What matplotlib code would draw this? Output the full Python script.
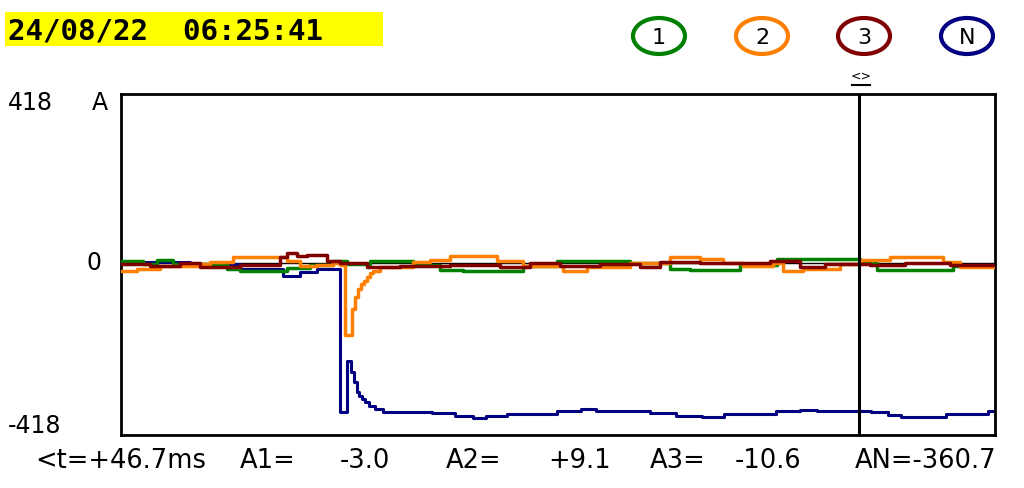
import matplotlib
matplotlib.use('Agg')
import matplotlib.pyplot as plt
from matplotlib.patches import Ellipse, Rectangle
from matplotlib.lines import Line2D

# time axis in ms, 0 = fault onset, cursor at +46.7 ms
t_start, t_end = -19.71, 58.95
cursor_t = 46.7

# phase N (navy)
tN = [-19.7, -18.3, -13.5, -9.0, -5.1, -3.6, -2.1, 0.0, 0.6, 1.0, 1.3, 1.5, 1.7, 2.0,
      2.25, 2.6, 3.15, 3.9, 8.3, 10.35, 12.0, 13.1, 15.0, 19.5, 21.7, 23.0, 27.9, 30.2,
      32.6, 34.6, 39.2, 41.4, 42.9, 47.8, 49.3, 50.5, 54.5, 58.3, 58.95]
aN = [-3, 3, -3, -15, -33, -23, -15, -384, -252, -281, -307, -333, -343, -351,
      -359, -369, -377, -384, -387, -395, -400, -395, -390, -382, -377, -382, -387, -395,
      -397, -390, -382, -379, -382, -385, -392, -397, -390, -382, -382]

# phase 1 (green)
t1 = [-19.62, -17.73, -16.47, -15.03, -10.17, -9.0, -4.77, -2.7, -0.63, 0.63, 2.7, 6.57,
      9.0, 11.07, 16.47, 19.53, 26.1, 29.7, 31.5, 36.0, 39.33, 46.8, 48.33, 55.17, 58.95]
a1 = [6, -3, 8, -3, -15, -20, -12, -5, 6, -3, 6, -5,
      -17, -20, -7, 6, 0, -15, -18, -5, 9, 0, -18, -7, -7]

# phase 2 (orange)
t2 = [-19.62, -18.27, -16.2, -12.6, -11.7, -9.63, -4.77, -3.6, -2.07, -0.63, 0.0, 0.45,
      1.08, 1.35, 1.62, 1.89, 2.16, 2.43, 2.7, 2.97, 3.6, 6.57, 8.1, 9.9, 14.13, 16.47,
      20.07, 22.23, 26.1, 29.7, 32.4, 34.47, 36.27, 38.97, 39.87, 41.67, 45.0, 46.8,
      49.5, 54.27, 55.8, 58.95]
a2 = [-20, -15, -8, -3, 3, 15, 5, -7, -5, 0, -5, -186,
      -119, -88, -67, -54, -46, -36, -26, -20, -10, 3, 8, 18, 6, -8,
      -20, -10, 0, 15, 10, 0, -8, 0, -20, -15, -3, 8,
      15, 3, -10, -10]

# phase 3 (dark red)
t3 = [-19.62, -17.1, -14.4, -12.6, -9.0, -5.4, -4.77, -3.87, -2.97, -1.17, 0.0, 2.43,
      5.4, 9.9, 14.4, 17.1, 19.8, 23.4, 27.0, 28.8, 32.4, 38.7, 41.4, 43.65, 47.7,
      50.85, 54.9, 58.95]
a3 = [-3, -8, 0, -10, -5, 15, 26, 18, 21, 6, 0, -10,
      -8, -5, -10, 0, -8, -3, -10, 3, 0, 5, -10, -3, -5,
      0, -5, -5]

legend_names = ['1', '2', '3', 'N']
colors = ['#008000', '#FF8000', '#800000', '#000080']

readout = ['<t=+46.7ms', 'A1=', '-3.0', 'A2=', '+9.1', 'A3=', '-10.6', 'AN=-360.7']
readout_x = [35, 240, 340, 446, 548, 650, 735, 855]

W, H = 1024, 489


def fx(x):
    return x / W


def fy(y):
    return 1 - y / H


fig = plt.figure(figsize=(10.24, 4.89), dpi=100)
fig.patch.set_facecolor('white')

ax = fig.add_axes([fx(121), fy(436), (995 - 121) / W, (436 - 95) / H])
ax.set_xlim(t_start, t_end)
ax.set_ylim(-444, 436)
ax.set_xticks([])
ax.set_yticks([])
for s in ax.spines.values():
    s.set_linewidth(2)
    s.set_color('black')

ax.axhline(0, color='black', lw=1, zorder=1)
ax.step(tN, aN, where='post', color=colors[3], lw=2.2, zorder=2)
ax.step(t1, a1, where='post', color=colors[0], lw=2.5, zorder=3)
ax.step(t2, a2, where='post', color=colors[1], lw=2.5, zorder=4)
ax.step(t3, a3, where='post', color=colors[2], lw=2.5, zorder=5)
ax.axvline(cursor_t, color='black', lw=2.2, zorder=6)

# header with date / time
fig.patches.append(Rectangle((fx(5), fy(47)), (383 - 5) / W, (47 - 13) / H,
                             transform=fig.transFigure, facecolor='#FFFF00',
                             edgecolor='none'))
fig.text(fx(8), fy(31), '24/08/22  06:25:41', fontsize=21, fontweight='bold',
         family='DejaVu Sans Mono', va='center', ha='left')

# channel circles
for i, (name, c) in enumerate(zip(legend_names, colors)):
    cx = [659, 762, 864, 967][i]
    fig.patches.append(Ellipse((fx(cx), fy(37)), 52 / W, 36 / H,
                               transform=fig.transFigure, facecolor='white',
                               edgecolor=c, lw=3))
    fig.text(fx(cx), fy(38), name, fontsize=16, ha='center', va='center')

# cursor marker
fig.text(fx(861), fy(76), '<>', fontsize=9, ha='center', va='center')
fig.lines.append(Line2D([fx(852), fx(870)], [fy(86), fy(86)], transform=fig.transFigure,
                        color='black', lw=1.5))

# amplitude labels
fig.text(fx(8), fy(103), '418', fontsize=17, va='center', ha='left')
fig.text(fx(92), fy(103), 'A', fontsize=17, va='center', ha='left')
fig.text(fx(86), fy(263), '0', fontsize=17, va='center', ha='left')
fig.text(fx(8), fy(426), '-418', fontsize=17, va='center', ha='left')

# readout line
for s, x in zip(readout, readout_x):
    fig.text(fx(x), fy(461), s, fontsize=18.5, va='center', ha='left')

fig.savefig('out.png', dpi=100)
